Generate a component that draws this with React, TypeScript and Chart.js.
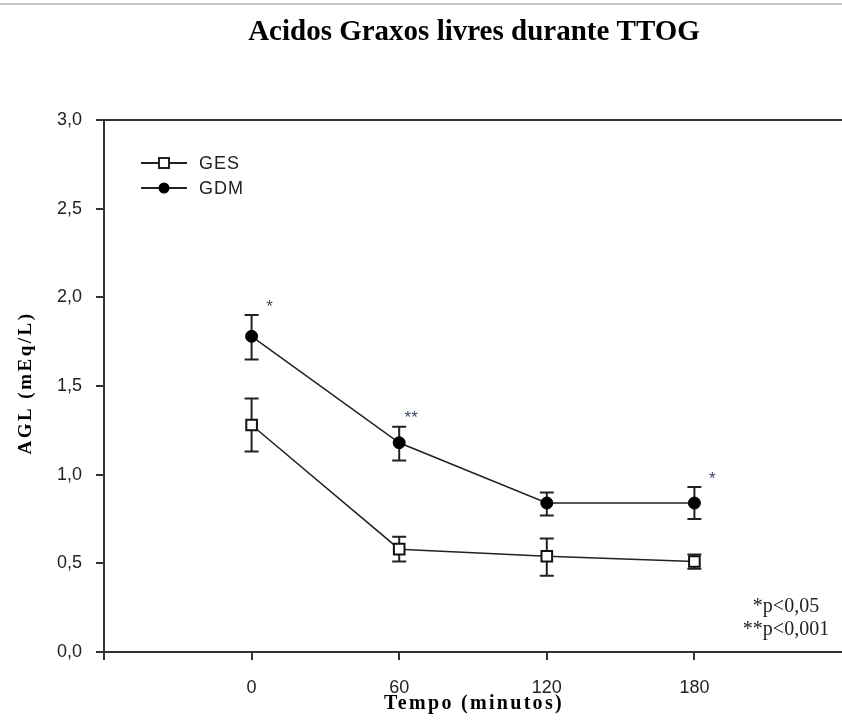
import React, { useEffect, useRef } from "react";
import { Chart, registerables } from "chart.js";

Chart.register(...registerables);

// ---- data ----
const timePoints = [0, 60, 120, 180];
const xTickLabels = ["0", "60", "120", "180"];
const seriesLabels = ["GES", "GDM"];
const gesMean = [1.28, 0.58, 0.54, 0.51];
const gesUpper = [1.43, 0.65, 0.64, 0.55];
const gesLower = [1.13, 0.51, 0.43, 0.47];
const gdmMean = [1.78, 1.18, 0.84, 0.84];
const gdmUpper = [1.9, 1.27, 0.9, 0.93];
const gdmLower = [1.65, 1.08, 0.77, 0.75];
const significanceTimes = [0, 60, 180];
const significanceMarks = ["*", "**", "*"];
const footnotes = ["*p<0,05", "**p<0,001"];
const chartTitle = "Acidos Graxos livres durante TTOG";
const xTitle = "Tempo (minutos)";
const yTitle = "AGL (mEq/L)";
const yMin = 0;
const yMax = 3;
const yStep = 0.5;
const xMin = -60;
const xMax = 240;
const xStep = 60;

const INK = "#222";
const SERIF = "'Liberation Serif', 'Times New Roman', serif";
const SANS = "'Liberation Sans', Arial, sans-serif";

function withSpacing(ctx: CanvasRenderingContext2D, sp: string, fn: () => void) {
  ctx.save();
  (ctx as any).letterSpacing = sp;
  fn();
  ctx.restore();
}

const annotPlugin = {
  id: "annot",
  beforeDraw(chart: any) {
    const ctx = chart.ctx as CanvasRenderingContext2D;
    ctx.save();
    ctx.fillStyle = "#fff";
    ctx.fillRect(0, 0, chart.width, chart.height);
    ctx.strokeStyle = "#c8c8c8";
    ctx.lineWidth = 2;
    ctx.beginPath();
    ctx.moveTo(0, 4);
    ctx.lineTo(chart.width, 4);
    ctx.stroke();
    ctx.restore();
  },
  beforeDatasetsDraw(chart: any) {
    const ctx = chart.ctx as CanvasRenderingContext2D;
    const xs = chart.scales.x;
    const ys = chart.scales.y;
    ctx.save();
    ctx.strokeStyle = INK;
    ctx.lineWidth = 2;
    const drawErr = (up: number[], lo: number[]) => {
      timePoints.forEach((t, i) => {
        const x = xs.getPixelForValue(t);
        const yU = ys.getPixelForValue(up[i]);
        const yL = ys.getPixelForValue(lo[i]);
        ctx.beginPath();
        ctx.moveTo(x, yU);
        ctx.lineTo(x, yL);
        ctx.moveTo(x - 7, yU);
        ctx.lineTo(x + 7, yU);
        ctx.moveTo(x - 7, yL);
        ctx.lineTo(x + 7, yL);
        ctx.stroke();
      });
    };
    drawErr(gesUpper, gesLower);
    drawErr(gdmUpper, gdmLower);
    ctx.restore();
  },
  afterDraw(chart: any) {
    const ctx = chart.ctx as CanvasRenderingContext2D;
    const xs = chart.scales.x;
    const ys = chart.scales.y;
    const area = chart.chartArea;
    ctx.save();

    // top frame line
    ctx.strokeStyle = "#333";
    ctx.lineWidth = 2;
    ctx.beginPath();
    ctx.moveTo(area.left, area.top);
    ctx.lineTo(area.right, area.top);
    ctx.stroke();

    // title
    ctx.fillStyle = "#000";
    ctx.textAlign = "center";
    ctx.textBaseline = "middle";
    ctx.font = `bold 29px ${SERIF}`;
    ctx.fillText(chartTitle, 474, 33);

    // x title
    ctx.font = `bold 20px ${SERIF}`;
    withSpacing(ctx, "2.3px", () => ctx.fillText(xTitle, 474, 704));

    // y title
    ctx.font = `bold 19px ${SERIF}`;
    ctx.save();
    ctx.translate(26, 383);
    ctx.rotate(-Math.PI / 2);
    withSpacing(ctx, "2.5px", () => ctx.fillText(yTitle, 0, 0));
    ctx.restore();

    // legend
    const legendItems = [
      { label: seriesLabels[0], style: "rect" },
      { label: seriesLabels[1], style: "circle" },
    ];
    legendItems.forEach((it, i) => {
      const y = area.top + 43 + i * 25;
      const x0 = area.left + 37;
      const x1 = area.left + 83;
      const xm = (x0 + x1) / 2;
      ctx.strokeStyle = INK;
      ctx.lineWidth = 2;
      ctx.beginPath();
      ctx.moveTo(x0, y);
      ctx.lineTo(x1, y);
      ctx.stroke();
      if (it.style === "rect") {
        ctx.fillStyle = "#fff";
        ctx.fillRect(xm - 5, y - 5, 10, 10);
        ctx.strokeRect(xm - 5, y - 5, 10, 10);
      } else {
        ctx.fillStyle = "#000";
        ctx.beginPath();
        ctx.arc(xm, y, 5.5, 0, Math.PI * 2);
        ctx.fill();
      }
      ctx.fillStyle = INK;
      ctx.textAlign = "left";
      ctx.textBaseline = "middle";
      ctx.font = `18px ${SANS}`;
      withSpacing(ctx, "1px", () => ctx.fillText(it.label, x1 + 12, y + 1));
    });

    // significance marks
    ctx.fillStyle = "#3a4a66";
    ctx.font = `17px ${SANS}`;
    ctx.textAlign = "center";
    ctx.textBaseline = "middle";
    significanceTimes.forEach((t, i) => {
      const idx = timePoints.indexOf(t);
      const x = xs.getPixelForValue(t);
      const y = ys.getPixelForValue(gdmUpper[idx]);
      const dx = significanceMarks[i].length > 1 ? 12 : 18;
      ctx.fillText(significanceMarks[i], x + dx, y - 8);
    });

    // footnotes
    ctx.fillStyle = INK;
    ctx.font = `20px ${SERIF}`;
    footnotes.forEach((f, i) => {
      ctx.fillText(f, 786, 607 + i * 23);
    });

    ctx.restore();
  },
};

export default function App() {
  const ref = useRef<HTMLCanvasElement>(null);
  useEffect(() => {
    if (!ref.current) return;
    const chart = new Chart(ref.current, {
      type: "line",
      data: {
        datasets: [
          {
            label: seriesLabels[0],
            data: timePoints.map((t, i) => ({ x: t, y: gesMean[i] })),
            borderColor: INK,
            borderWidth: 1.5,
            pointStyle: "rect",
            pointRadius: 7.5,
            pointBackgroundColor: "#fff",
            pointBorderColor: "#111",
            pointBorderWidth: 2,
          },
          {
            label: seriesLabels[1],
            data: timePoints.map((t, i) => ({ x: t, y: gdmMean[i] })),
            borderColor: INK,
            borderWidth: 1.5,
            pointStyle: "circle",
            pointRadius: 6,
            pointBackgroundColor: "#000",
            pointBorderColor: "#000",
            pointBorderWidth: 1,
          },
        ],
      },
      options: {
        animation: false,
        responsive: false,
        devicePixelRatio: 1,
        layout: {
          autoPadding: false,
          padding: { top: 120, right: 0, left: 0, bottom: 0 },
        },
        plugins: {
          legend: { display: false },
          title: { display: false },
          tooltip: { enabled: false },
        },
        scales: {
          x: {
            type: "linear",
            min: xMin,
            max: xMax,
            ticks: {
              stepSize: xStep,
              autoSkip: false,
              maxRotation: 0,
              padding: 17,
              color: INK,
              font: { family: SANS, size: 18 },
              callback: (v: any) => {
                const i = timePoints.indexOf(Number(v));
                return i >= 0 ? xTickLabels[i] : "";
              },
            },
            grid: {
              drawOnChartArea: false,
              drawTicks: true,
              tickLength: 8,
              lineWidth: 2,
              color: "#333",
              tickColor: (c: any) =>
                c.tick && c.tick.value === xMax ? "rgba(0,0,0,0)" : "#333",
            },
            border: { display: true, color: "#333", width: 2 },
            afterFit: (s: any) => {
              s.height = 72;
              s.paddingLeft = 0;
              s.paddingRight = 0;
            },
          },
          y: {
            type: "linear",
            min: yMin,
            max: yMax,
            ticks: {
              stepSize: yStep,
              padding: 14,
              color: INK,
              font: { family: SANS, size: 18 },
              callback: (v: any) => Number(v).toFixed(1).replace(".", ","),
            },
            grid: {
              drawOnChartArea: false,
              drawTicks: true,
              tickLength: 8,
              lineWidth: 2,
              color: "#333",
            },
            border: { display: true, color: "#333", width: 2 },
            afterFit: (s: any) => {
              s.width = 104;
            },
          },
        },
      },
      plugins: [annotPlugin],
    });
    return () => chart.destroy();
  }, []);

  return (
    <div style={{ position: "absolute", left: 0, top: 0, width: 842, height: 724 }}>
      <canvas ref={ref} width={842} height={724} style={{ display: "block" }} />
    </div>
  );
}
